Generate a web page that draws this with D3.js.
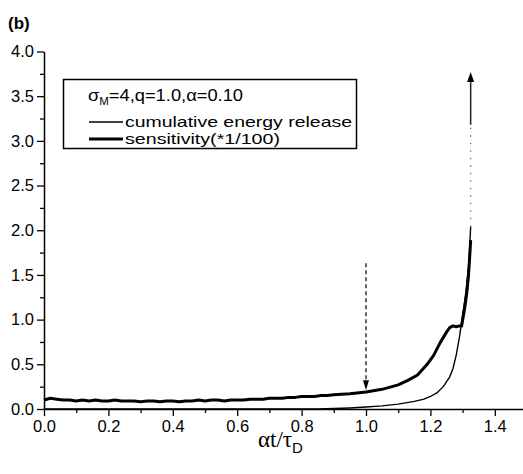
<!DOCTYPE html>
<html>
<head>
<meta charset="utf-8">
<script src="https://cdn.jsdelivr.net/npm/d3@7"></script>
<style>
  body { margin: 0; background: #fff; }
  svg { display: block; font-family: Arial, "Liberation Sans", sans-serif; }
</style>
</head>
<body>
<div id="chart"></div>
<script>
// data
var sens_x = [0.00, 0.02, 0.04, 0.06, 0.08, 0.10, 0.12, 0.14, 0.16, 0.18,
  0.20, 0.22, 0.24, 0.26, 0.28, 0.30, 0.32, 0.34, 0.36, 0.38,
  0.40, 0.42, 0.44, 0.46, 0.48, 0.50, 0.52, 0.54, 0.56, 0.58,
  0.60, 0.62, 0.64, 0.66, 0.68, 0.70, 0.72, 0.74, 0.76, 0.78,
  0.80, 0.82, 0.84, 0.86, 0.88, 0.90, 0.95, 1.00, 1.05, 1.10,
  1.13, 1.16, 1.19, 1.21, 1.23, 1.25, 1.26, 1.27, 1.28, 1.29,
  1.297, 1.307, 1.313, 1.318, 1.322, 1.325];
var sens_y = [0.10, 0.12, 0.11, 0.10, 0.10, 0.09, 0.10, 0.09, 0.10, 0.09,
  0.09, 0.10, 0.09, 0.09, 0.09, 0.08, 0.09, 0.09, 0.08, 0.09,
  0.09, 0.08, 0.09, 0.09, 0.10, 0.09, 0.10, 0.10, 0.09, 0.10,
  0.10, 0.10, 0.11, 0.11, 0.11, 0.12, 0.12, 0.12, 0.13, 0.13,
  0.14, 0.14, 0.14, 0.15, 0.15, 0.16, 0.17, 0.19, 0.22, 0.27,
  0.32, 0.38, 0.50, 0.60, 0.74, 0.86, 0.91, 0.93, 0.92, 0.93,
  0.93, 1.14, 1.30, 1.48, 1.70, 1.89];

var energy_x = [0.00, 0.85, 0.90, 0.95, 1.00, 1.05, 1.10, 1.15, 1.18, 1.20,
  1.22, 1.24, 1.26, 1.27, 1.28, 1.29, 1.30, 1.31, 1.32, 1.325];
var energy_y = [0.00, 0.00, 0.005, 0.012, 0.022, 0.035, 0.055, 0.085, 0.11, 0.14,
  0.18, 0.25, 0.36, 0.45, 0.60, 0.80, 1.05, 1.30, 1.65, 2.04];

var x_ticks = [0.0, 0.2, 0.4, 0.6, 0.8, 1.0, 1.2, 1.4];
var x_minor = [0.1, 0.3, 0.5, 0.7, 0.9, 1.1, 1.3, 1.5];
var y_ticks = [0.0, 0.5, 1.0, 1.5, 2.0, 2.5, 3.0, 3.5, 4.0];
var y_minor = [0.25, 0.75, 1.25, 1.75, 2.25, 2.75, 3.25, 3.75];

var legend_title = "=4,q=1.0,";
var legend_labels = ["cumulative energy release", "sensitivity(*1/100)"];

// arrows: dashed one at the transition, solid one at the blow-up
var down_arrow = { x: 1.0, from: 1.63, to: 0.21 };
var up_arrow = { x: 1.325, dotted_from: 2.04, from: 3.18, to: 3.77 };

var chart_width = 523;
var chart_height = 474;

var svg = d3.select('#chart')
  .append('svg')
  .attr('width', chart_width)
  .attr('height', chart_height);

var x_scale = d3.scaleLinear()
  .domain([0, 1.5])
  .range([44, 527]);

var y_scale = d3.scaleLinear()
  .domain([0, 4])
  .range([409, 51.5]);

// minor ticks first so the major axis sits on top
svg.append('g')
  .attr('transform', 'translate(0,' + y_scale(0) + ')')
  .call(d3.axisBottom(x_scale).tickValues(x_minor).tickSize(4).tickFormat(''))
  .call(function(g) { g.select('.domain').remove(); })
  .selectAll('line').attr('stroke-width', 1.3);

svg.append('g')
  .attr('transform', 'translate(' + x_scale(0) + ',0)')
  .call(d3.axisLeft(y_scale).tickValues(y_minor).tickSize(4).tickFormat(''))
  .call(function(g) { g.select('.domain').remove(); })
  .selectAll('line').attr('stroke-width', 1.3);

var x_axis = svg.append('g')
  .attr('transform', 'translate(0,' + y_scale(0) + ')')
  .call(d3.axisBottom(x_scale)
    .tickValues(x_ticks)
    .tickSize(7)
    .tickSizeOuter(0)
    .tickPadding(4)
    .tickFormat(d3.format('.1f')));

var y_axis = svg.append('g')
  .attr('transform', 'translate(' + x_scale(0) + ',0)')
  .call(d3.axisLeft(y_scale)
    .tickValues(y_ticks)
    .tickSize(7)
    .tickSizeOuter(0)
    .tickPadding(3)
    .tickFormat(d3.format('.1f')));

[x_axis, y_axis].forEach(function(g) {
  g.select('.domain').attr('stroke-width', 1.5);
  g.selectAll('line').attr('stroke-width', 1.3);
  g.selectAll('text')
    .attr('font-size', 16.5)
    .attr('font-family', 'Arial, "Liberation Sans", sans-serif')
    .attr('fill', '#000');
});

// curves
var line = d3.line()
  .x(function(d) { return x_scale(d[0]); })
  .y(function(d) { return y_scale(d[1]); });

svg.append('path')
  .datum(d3.zip(energy_x, energy_y))
  .attr('d', line)
  .attr('fill', 'none')
  .attr('stroke', '#000')
  .attr('stroke-width', 1.4);

svg.append('path')
  .datum(d3.zip(sens_x, sens_y))
  .attr('d', line)
  .attr('fill', 'none')
  .attr('stroke', '#000')
  .attr('stroke-width', 3)
  .attr('stroke-linejoin', 'round');

// dashed arrow pointing down at alpha t / tau = 1
var dx = x_scale(down_arrow.x);
svg.append('line')
  .attr('x1', dx).attr('x2', dx)
  .attr('y1', y_scale(down_arrow.from))
  .attr('y2', y_scale(down_arrow.to) - 8)
  .attr('stroke', '#000')
  .attr('stroke-width', 1.2)
  .attr('stroke-dasharray', '4,3');
svg.append('path')
  .attr('d', 'M' + (dx - 3) + ',' + (y_scale(down_arrow.to) - 10) +
    'L' + (dx + 3) + ',' + (y_scale(down_arrow.to) - 10) +
    'L' + dx + ',' + y_scale(down_arrow.to) + 'Z')
  .attr('fill', '#000');

// dotted continuation and solid arrow going up
var ux = x_scale(up_arrow.x);
svg.append('line')
  .attr('x1', ux).attr('x2', ux)
  .attr('y1', y_scale(up_arrow.dotted_from))
  .attr('y2', y_scale(up_arrow.from))
  .attr('stroke', '#777')
  .attr('stroke-width', 1.3)
  .attr('stroke-dasharray', '1.5,6');
svg.append('line')
  .attr('x1', ux).attr('x2', ux)
  .attr('y1', y_scale(up_arrow.from))
  .attr('y2', y_scale(up_arrow.to) + 8)
  .attr('stroke', '#222')
  .attr('stroke-width', 1.5);
svg.append('path')
  .attr('d', 'M' + (ux - 3.5) + ',' + (y_scale(up_arrow.to) + 10) +
    'L' + (ux + 3.5) + ',' + (y_scale(up_arrow.to) + 10) +
    'L' + ux + ',' + y_scale(up_arrow.to) + 'Z')
  .attr('fill', '#000');

// legend
var legend = svg.append('g');
legend.append('rect')
  .attr('x', 63.5).attr('y', 79.5)
  .attr('width', 293).attr('height', 69)
  .attr('fill', '#fff')
  .attr('stroke', '#000')
  .attr('stroke-width', 1.5);

var title = legend.append('text')
  .attr('x', 88).attr('y', 101)
  .attr('font-size', 16)
  .attr('textLength', 155)
  .attr('lengthAdjust', 'spacingAndGlyphs')
  .attr('fill', '#000');
title.append('tspan').text('σ');
title.append('tspan').attr('font-size', 10).attr('dy', 4).text('M');
title.append('tspan').attr('dy', -4).text(legend_title);
title.append('tspan').text('α=0.10');

var sample_y = [122, 139];
var sample_w = [1.4, 3];
var label_len = [227, 155];
legend.selectAll('.sample')
  .data(legend_labels)
  .enter()
  .append('line')
  .attr('x1', 89).attr('x2', 123)
  .attr('y1', function(d, i) { return sample_y[i]; })
  .attr('y2', function(d, i) { return sample_y[i]; })
  .attr('stroke', '#000')
  .attr('stroke-width', function(d, i) { return sample_w[i]; });

legend.selectAll('.label')
  .data(legend_labels)
  .enter()
  .append('text')
  .attr('x', 125)
  .attr('y', function(d, i) { return sample_y[i] + 5; })
  .attr('font-size', 15)
  .attr('textLength', function(d, i) { return label_len[i]; })
  .attr('lengthAdjust', 'spacingAndGlyphs')
  .attr('fill', '#000')
  .text(function(d) { return d; });

// panel letter and x label
svg.append('text')
  .attr('x', 8).attr('y', 29)
  .attr('font-size', 17)
  .attr('font-weight', 'bold')
  .text('(b)');

var xlabel = svg.append('text')
  .attr('x', 258).attr('y', 447)
  .attr('font-size', 23)
  .attr('font-family', '"Liberation Serif", "Times New Roman", serif');
xlabel.append('tspan').text('αt/τ');
xlabel.append('tspan')
  .attr('font-size', 15)
  .attr('font-family', 'Arial, "Liberation Sans", sans-serif')
  .attr('dy', 6)
  .text('D');
</script>
</body>
</html>
